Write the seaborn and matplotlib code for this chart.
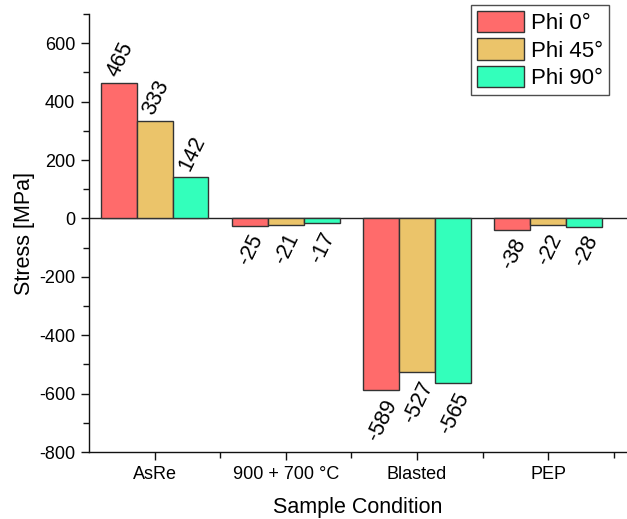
import matplotlib
matplotlib.use("Agg")
import matplotlib.pyplot as plt
import matplotlib.ticker as mticker
import seaborn as sns
import pandas as pd

categories = ["AsRe", "900 + 700 °C", "Blasted", "PEP"]
series_names = ["Phi 0°", "Phi 45°", "Phi 90°"]
phi0 = [465, -25, -589, -38]
phi45 = [333, -21, -527, -22]
phi90 = [142, -17, -565, -28]
colors = ["#FF6B6B", "#EBC46A", "#33FFBB"]

rows = []
for name, vals in zip(series_names, [phi0, phi45, phi90]):
    for c, v in zip(categories, vals):
        rows.append({"Sample Condition": c, "Stress": v, "Series": name})
df = pd.DataFrame(rows)

sns.set_style("ticks")
plt.rcParams["font.family"] = ["Liberation Sans", "DejaVu Sans"]
plt.rcParams["axes.unicode_minus"] = False
plt.rcParams["text.color"] = "black"
plt.rcParams["axes.labelcolor"] = "black"
plt.rcParams["xtick.color"] = "black"
plt.rcParams["ytick.color"] = "black"

fig = plt.figure(figsize=(6.27, 5.19), dpi=100)
ax = fig.add_axes([0.142, 0.129, 0.858, 0.844])

sns.barplot(data=df, x="Sample Condition", y="Stress", hue="Series",
            order=categories, hue_order=series_names, palette=colors,
            width=0.82, gap=0, edgecolor="#333333", linewidth=1.0,
            saturation=1, errorbar=None, ax=ax)

ax.set_xlim(-0.5, 3.6)
ax.set_ylim(-800, 700)
ax.axhline(0, color="#222222", lw=1.0, zorder=0.5)

for container in ax.containers:
    for patch in container:
        h = patch.get_height()
        xc = patch.get_x() + patch.get_width() / 2
        if h >= 0:
            ax.annotate(f"{h:.0f}", (xc, h), xytext=(1, 2), textcoords="offset points",
                        rotation=64, ha="center", va="bottom", fontsize=15.5)
        else:
            ax.annotate(f"{h:.0f}", (xc, h), xytext=(1, -4), textcoords="offset points",
                        rotation=64, ha="center", va="top", fontsize=15.5)

sns.despine(ax=ax, top=True, right=True)
for s in ["left", "bottom"]:
    ax.spines[s].set_color("#111111")
    ax.spines[s].set_linewidth(1.0)

ax.yaxis.set_major_locator(mticker.MultipleLocator(200))
ax.yaxis.set_minor_locator(mticker.MultipleLocator(100))
ax.xaxis.set_minor_locator(mticker.FixedLocator([0.5, 1.5, 2.5, 3.5]))
ax.tick_params(axis="both", which="major", direction="out", length=6, width=1,
               labelsize=13, color="#111111", pad=4)
ax.tick_params(axis="both", which="minor", direction="out", length=4, width=1,
               color="#111111")

ax.set_xlabel("Sample Condition", fontsize=15.5, labelpad=10)
ax.set_ylabel("Stress [MPa]", fontsize=15.5, labelpad=3)

leg = ax.legend(loc="upper right", bbox_to_anchor=(0.971, 0.990),
                bbox_transform=fig.transFigure, borderaxespad=0,
                fontsize=16, frameon=True, fancybox=False,
                handlelength=2.15, handleheight=1.1, labelspacing=0.2,
                handletextpad=0.3, borderpad=0.25, title=None)
leg.get_frame().set_edgecolor("#222222")
leg.get_frame().set_linewidth(1.0)

fig.savefig("out.png", dpi=100)
